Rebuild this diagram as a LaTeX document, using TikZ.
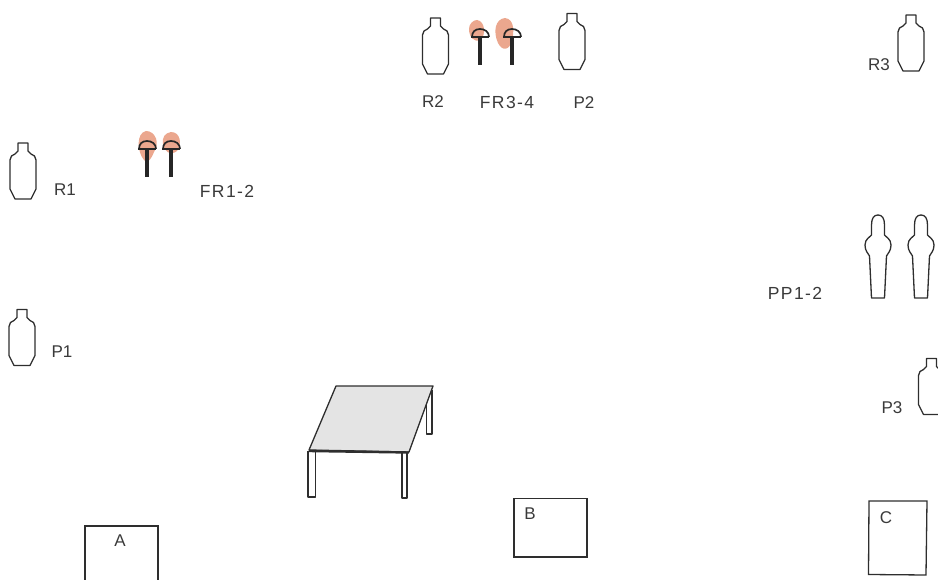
\documentclass[tikz,border=0pt]{standalone}
\usepackage{fontspec}
\setmainfont{Liberation Sans}
\definecolor{ink}{HTML}{2E2E2E}
\definecolor{labelink}{HTML}{3A3A3A}
\definecolor{blob}{HTML}{EBA78E}
\definecolor{tabletop}{HTML}{E4E4E4}
\tikzset{
  lab/.style={font=\fontsize{17}{19}\selectfont, text=labelink, inner sep=0pt},
  widelab/.style={font=\fontsize{17.5}{19}\selectfont\addfontfeatures{LetterSpace=8}, text=labelink, inner sep=0pt},
  outline/.style={draw=ink, line width=1.3pt, line join=round},
  boxline/.style={draw=ink, line width=1.3pt},
  pics/bottle/.style={code={
    \draw[outline] (-5,0) -- (5,0) -- (5,8) -- (8,11) -- (11.5,13) -- (13,17) -- (13,46) -- (9,54) -- (8,56) -- (-8,56) -- (-9,54) -- (-13,46) -- (-13,17) -- (-11.5,13) -- (-8,11) -- (-5,8) -- cycle;
  }},
  pics/figure/.style={code={
    \draw[outline] (-6.5,10) .. controls (-6.5,3) and (-4,0) .. (0,0)
      .. controls (4,0) and (6.5,3) .. (6.5,10) -- (6.5,20)
      .. controls (8,22) and (13,24) .. (13,30)
      .. controls (13,36) and (10,38) .. (8.5,41)
      -- (6.5,83) -- (-6.5,83) -- (-8.5,41)
      .. controls (-10,38) and (-13,36) .. (-13,30)
      .. controls (-13,24) and (-8,22) .. (-6.5,20) -- cycle;
  }},
  pics/popper/.style={code={
    \draw[line width=3.2pt, draw=black!85] (0,0) -- (0,28);
    \draw[line width=2.6pt, draw=black!85] (-9,0) -- (9,0);
    \draw[line width=1.7pt, draw=black!85] (-8,0) .. controls (-8,-5) and (-5,-8) .. (0,-8)
      .. controls (5,-8) and (9,-5) .. (9,0);
  }}
}
\begin{document}
\begin{tikzpicture}[x=1pt,y=-1pt]
\useasboundingbox (0,0) rectangle (938,580);
\clip (0,0) rectangle (938,580);
% orange blobs
\fill[blob] (146,131) .. controls (156,131) and (160,144) .. (154,152) .. controls (151,160) and (146,165) .. (144,160) .. controls (137,152) and (136,133) .. (146,131) -- cycle;
\fill[blob] (171,132) .. controls (181,132) and (182,145) .. (177,151) .. controls (171,156) and (164,152) .. (163,144) .. controls (162,137) and (165,133) .. (171,132) -- cycle;
\fill[blob] (477,20) .. controls (485,21) and (486,34) .. (481,40) .. controls (474,43) and (469,37) .. (469,29) .. controls (469,24) and (473,20) .. (477,20) -- cycle;
\fill[blob] (505,18) .. controls (515,19) and (514,33) .. (512,41) .. controls (509,51) and (502,51) .. (498,43) .. controls (493,32) and (495,19) .. (505,18) -- cycle;
% targets
\pic at (23,143) {bottle};
\pic at (435.5,18) {bottle};
\pic at (572,13.5) {bottle};
\pic at (911,15) {bottle};
\pic at (22,309.5) {bottle};
\pic at (931.5,358.5) {bottle};
\pic at (878,215) {figure};
\pic at (921,215) {figure};
% poppers
\pic at (147,149) {popper};
\pic at (171,149) {popper};
\pic at (480,37) {popper};
\pic at (512,37) {popper};
% table
\draw[outline, fill=white] (426.5,395) -- (426.5,434) -- (432,434) -- (432,390);
\draw[outline, fill=white] (308,451) -- (308,497) -- (315.5,497) -- (315.5,451);
\draw[outline, fill=white] (402,452) -- (402,498) -- (407,498) -- (407,452);
\draw[outline, fill=tabletop] (336,386) -- (433,386) -- (409,452) -- (309,450) -- cycle;
\draw[draw=ink, line width=2.4pt] (309,451) -- (409,452.5);
% boxes
\draw[boxline] (85,581) -- (85,526) -- (158,526) -- (158,581);
\draw[boxline] (514,498.5) rectangle (587,557);
\draw[boxline] (869,501) -- (927,501) -- (926,575) -- (868.5,574.5) -- cycle;
% labels
\node[lab] (r1) at (65,190) {R1};
\node[widelab] (fr12) at (227,191) {FR1-2};
\node[lab] (r2) at (433,102) {R2};
\node[widelab] (fr34) at (507,102) {FR3-4};
\node[lab] (p2) at (584,103) {P2};
\node[lab] (r3) at (879,65) {R3};
\node[widelab] (pp12) at (795,293) {PP1-2};
\node[lab] (p1) at (62,352) {P1};
\node[lab] (p3) at (892,408) {P3};
\node[lab] (a) at (120,541) {A};
\node[lab] (b) at (530,514) {B};
\node[lab] (c) at (886,518) {C};
\end{tikzpicture}
\end{document}
